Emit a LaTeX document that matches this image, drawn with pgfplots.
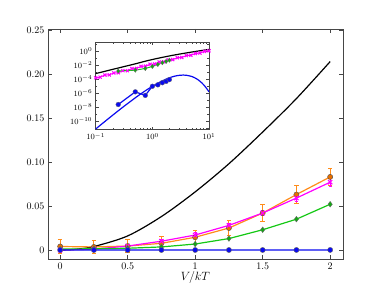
\documentclass[border=0pt]{standalone}
\usepackage{pgfplots}
\pgfplotsset{compat=1.18}
\usetikzlibrary{calc}
\definecolor{cOrange}{RGB}{255,140,26}
\definecolor{cOrangeM}{RGB}{230,110,0}
\definecolor{cGreen}{RGB}{20,200,20}
\definecolor{cBlue}{RGB}{10,10,240}
\definecolor{cMag}{RGB}{255,0,255}
\definecolor{cFrame}{RGB}{70,70,70}
\begin{document}
\begin{tikzpicture}
\begin{axis}[name=main, scale only axis, width=295pt, height=230pt,
  xmin=-0.09, xmax=2.095, ymin=-0.0102, ymax=0.251,
  xtick={0,0.5,1,1.5,2}, xticklabels={0,0.5,1,1.5,2},
  ytick={0,0.05,0.10,0.15,0.20,0.25}, yticklabels={0,0.05,0.10,0.15,0.20,0.25},
  tick align=inside, major tick length=4pt,
  axis line style={cFrame, line width=0.8pt},
  tick style={cFrame, line width=0.5pt},
  xlabel={$V/kT$}, xlabel style={font=\large, yshift=5pt},
  clip=false]
% black
\addplot[black, line width=1.2pt, smooth] coordinates {
(0,0) (0.1,0.00065) (0.25,0.004) (0.5,0.016) (0.75,0.038) (1,0.066) (1.25,0.098) (1.5,0.134) (1.75,0.172) (2,0.214)};
% orange
\addplot[cOrange, line width=1.2pt, mark=*, mark size=2.6pt,
  mark options={fill=cOrangeM, draw=black!70, line width=0.4pt},
  error bars/.cd, y dir=both, y explicit,
  error bar style={cOrange, line width=1pt},
  error mark options={cOrange, rotate=90, mark size=2.2pt, line width=1pt}]
coordinates {
(0,0.004) +- (0,0.0075)
(0.25,0.0035) +- (0,0.0075)
(0.5,0.0045) +- (0,0.0075)
(0.75,0.0076) +- (0,0.0075)
(1,0.0145) +- (0,0.008)
(1.25,0.025) +- (0,0.008)
(1.5,0.042) +- (0,0.01)
(1.75,0.063) +- (0,0.01)
(2,0.083) +- (0,0.01)};
% magenta
\addplot[cMag, line width=1.2pt, mark=x, mark size=3pt,
  mark options={line width=1.2pt},
  error bars/.cd, y dir=both, y explicit,
  error bar style={cMag, line width=0.8pt},
  error mark options={cMag, rotate=90, mark size=1.5pt}]
coordinates {
(0,0) +- (0,0.002)
(0.25,0.001) +- (0,0.002)
(0.5,0.0045) +- (0,0.002)
(0.75,0.010) +- (0,0.002)
(1,0.017) +- (0,0.003)
(1.25,0.028) +- (0,0.003)
(1.5,0.042) +- (0,0.003)
(1.75,0.059) +- (0,0.004)
(2,0.077) +- (0,0.004)};
% green
\addplot[cGreen, line width=1.2pt, mark=diamond*, mark size=2.8pt,
  mark options={fill=cGreen!85!black, draw=black!60, line width=0.4pt}]
coordinates {
(0,0.001) (0.25,0.0015) (0.5,0.002) (0.75,0.0035) (1,0.0068) (1.25,0.013) (1.5,0.023) (1.75,0.035) (2,0.052)};
% blue
\addplot[cBlue, line width=1.2pt, mark=*, mark size=2.6pt,
  mark options={fill=cBlue, draw=black!60, line width=0.4pt}]
coordinates {
(0,0) (0.25,2.5e-8) (0.5,1.6e-6) (0.75,5e-7) (1,1e-5) (1.25,1.6e-5) (1.5,3.2e-5) (1.75,5e-5) (2,9e-5)};
\end{axis}
\begin{axis}[name=inset, at={($(main.north west)+(47.7pt,-13.3pt)$)}, anchor=north west,
  scale only axis, width=113.3pt, height=87.4pt,
  xmode=log, ymode=log, xmin=0.1, xmax=10, ymin=6.3e-12, ymax=19,
  xtick={0.1,1,10},
  ytick={1e-10,1e-8,1e-6,1e-4,1e-2,1},
  yticklabels={$10^{-10}$,$10^{-8}$,$10^{-6}$,$10^{-4}$,$10^{-2}$,$10^{0}$},
  minor ytick={1e-11,1e-9,1e-7,1e-5,1e-3,1e-1,10},
  tick align=inside, major tick length=3pt, minor tick length=1.8pt,
  axis line style={cFrame, line width=0.8pt},
  tick style={cFrame, line width=0.4pt},
  tick label style={font=\footnotesize},
  axis background/.style={fill=white}]
% black
\addplot[black, line width=1.2pt, smooth] coordinates {
(0.1,0.00065) (0.2,0.0026) (0.3,0.0058) (0.5,0.016) (0.75,0.038) (1,0.066) (1.5,0.134) (2,0.214) (2.5,0.30) (3,0.39) (4,0.58) (5,0.78) (6,0.98) (7,1.18) (8,1.39) (10,1.8)};
% magenta
\addplot[cMag, line width=1pt, mark=x, mark size=2.2pt, mark options={line width=1pt}] coordinates {
(0.100,1.6e-4) (0.120,2.0e-4) (0.145,4.0e-4) (0.174,4.2e-4) (0.209,8.0e-4) (0.251,8.5e-4)
(0.302,1.7e-3) (0.363,1.7e-3) (0.437,3.4e-3) (0.525,3.6e-3) (0.631,7.0e-3) (0.759,7.5e-3)
(0.912,0.014) (1.096,0.015) (1.318,0.029) (1.585,0.031) (1.905,0.060) (2.291,0.064)
(2.754,0.12) (3.311,0.13) (3.981,0.24) (4.786,0.27) (5.754,0.48) (6.918,0.56) (8.318,0.95) (10,1.15)};
% green
\addplot[cGreen, line width=1pt, mark=diamond*, mark size=2.2pt,
  mark options={fill=cGreen!85!black, draw=black!60, line width=0.3pt}]
coordinates {
(0.25,0.0015) (0.5,0.002) (0.75,0.0035) (1,0.0068) (1.25,0.013) (1.5,0.023) (1.75,0.035) (2,0.052)};
% blue curve
\addplot[cBlue, line width=1.2pt, smooth] coordinates {
(0.1,7.94e-12) (0.15,1.16e-10) (0.2,7.57e-10) (0.3,1.0e-8) (0.5,2.26e-7) (0.7,1.54e-6) (1,9.86e-6)
(1.5,5.97e-5) (2,1.61e-4) (2.5,2.81e-4) (3,3.67e-4) (3.5,3.98e-4) (4,3.74e-4) (5,2.44e-4)
(6,1.2e-4) (7,4.88e-5) (8,1.71e-5) (9,5.43e-6) (10,1.58e-6)};
% blue dots
\addplot[cBlue, line width=1.2pt, mark=*, mark size=2.4pt,
  mark options={fill=cBlue, draw=black!60, line width=0.3pt}]
coordinates {
(0.25,2.5e-8) (0.5,1.6e-6) (0.75,5e-7) (1,1e-5) (1.25,1.6e-5) (1.5,3.2e-5) (1.75,5e-5) (2,9e-5)};
\end{axis}
\useasboundingbox ($(main.south west)+(-48pt,-29pt)$) rectangle ($(main.north east)+(39pt,29pt)$);
\end{tikzpicture}
\end{document}
